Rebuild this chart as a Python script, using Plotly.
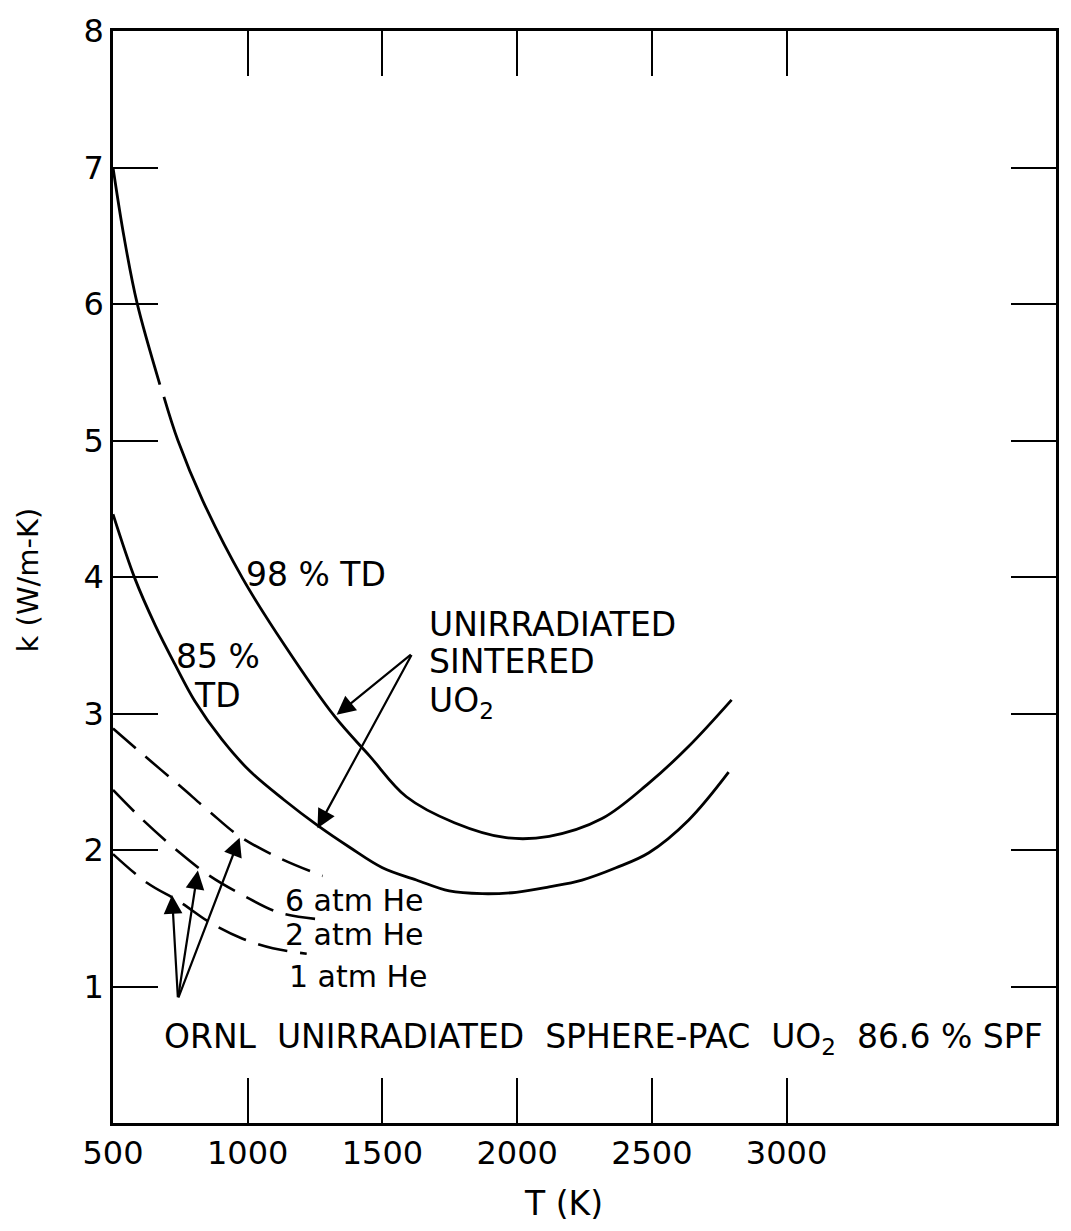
import plotly.graph_objects as go

# ---- data ----
t_98 = [500, 541, 589, 674, None, 689, 741, 833, 981, 1137, 1322, 1452, 1589, 1767,
        1959, 2119, 2315, 2489, 2637, 2796]
k_98 = [7.00, 6.49, 6.01, 5.41, None, 5.32, 5.00, 4.56, 3.99, 3.50, 2.98, 2.69, 2.39, 2.20,
        2.09, 2.10, 2.23, 2.49, 2.76, 3.10]

t_85 = [500, 581, 656, 730, 804, 904, 1007, 1133, 1259, 1378, 1500, 1626, 1748, 1870,
        1996, 2119, 2241, 2367, 2489, 2637, 2785]
k_85 = [4.46, 3.99, 3.65, 3.36, 3.09, 2.81, 2.58, 2.37, 2.18, 2.02, 1.87, 1.78, 1.70, 1.68,
        1.69, 1.73, 1.78, 1.87, 1.98, 2.22, 2.57]

t_6atm = [500, 611, 748, 859, 970, 1119, 1278]
k_6atm = [2.89, 2.70, 2.47, 2.28, 2.10, 1.94, 1.81]

t_2atm = [500, 611, 748, 859, 981, 1119, 1278]
k_2atm = [2.44, 2.22, 1.98, 1.81, 1.67, 1.54, 1.49]

t_1atm = [500, 626, 748, 859, 981, 1093, 1219]
k_1atm = [1.97, 1.76, 1.62, 1.47, 1.35, 1.28, 1.24]

x_ticks = [500, 1000, 1500, 2000, 2500, 3000]
y_ticks = [1, 2, 3, 4, 5, 6, 7, 8]

FONT = "DejaVu Sans"
fig = go.Figure()

solid = dict(color="black", width=2.8, shape="spline", smoothing=1.0)
dashed = dict(color="black", width=2.6, shape="spline", smoothing=1.0, dash="30px,13px")

fig.add_trace(go.Scatter(x=t_98, y=k_98, mode="lines", line=solid, connectgaps=False, showlegend=False))
fig.add_trace(go.Scatter(x=t_85, y=k_85, mode="lines", line=solid, showlegend=False))
fig.add_trace(go.Scatter(x=t_6atm, y=k_6atm, mode="lines", line=dashed, showlegend=False))
fig.add_trace(go.Scatter(x=t_2atm, y=k_2atm, mode="lines", line=dashed, showlegend=False))
fig.add_trace(go.Scatter(x=t_1atm, y=k_1atm, mode="lines", line=dashed, showlegend=False))

tf = dict(family=FONT, size=32, color="black")
ann = []
def txt(x, y, s, xa="left", size=33):
    ann.append(dict(x=x, y=y, xref="x", yref="y", text=s, showarrow=False,
                    xanchor=xa, yanchor="middle", font=dict(family=FONT, size=size, color="black")))

txt(985, 4.02, "98 % TD")
txt(889, 3.42, "85 %", xa="center")
txt(889, 3.13, "TD", xa="center")
txt(1665, 3.65, "UNIRRADIATED")
txt(1665, 3.38, "SINTERED")
txt(1665, 3.08, "UO<sub>2</sub>")
txt(1130, 1.63, "6 atm He", size=30)
txt(1130, 1.38, "2 atm He", size=30)
txt(1145, 1.07, "1 atm He", size=30)
txt(680, 0.62, "ORNL  UNIRRADIATED  SPHERE-PAC  UO<sub>2</sub>  86.6 % SPF", size=33)

def arrow(tx, ty, axx, ayy):
    ann.append(dict(x=tx, y=ty, ax=axx, ay=ayy, xref="x", yref="y", axref="x", ayref="y",
                    showarrow=True, arrowhead=2, arrowsize=1.7, arrowwidth=2.2, arrowcolor="black", text=""))

arrow(1330, 2.99, 1611, 3.44)
arrow(1259, 2.16, 1611, 3.44)
arrow(719, 1.67, 741, 0.91)
arrow(815, 1.85, 741, 0.91)
arrow(970, 2.09, 741, 0.91)

ann.append(dict(x=0.478, y=-0.074, xref="paper", yref="paper", text="T (K)", showarrow=False,
                xanchor="center", yanchor="middle", font=dict(family=FONT, size=33, color="black")))
ann.append(dict(x=-0.09, y=0.497, xref="paper", yref="paper", text="k (W/m-K)", showarrow=False,
                textangle=-90, xanchor="center", yanchor="middle", font=dict(family=FONT, size=29, color="black")))

fig.update_layout(
    width=1071, height=1231,
    margin=dict(l=113, r=13, t=20, b=108),
    paper_bgcolor="white", plot_bgcolor="white",
    annotations=ann,
    showlegend=False,
)
fig.update_xaxes(range=[500, 4000], tickvals=x_ticks, ticktext=[str(v) for v in x_ticks],
                 ticks="inside", ticklen=45, tickwidth=2, tickcolor="black",
                 showline=True, linecolor="black", linewidth=2.5, mirror="ticks",
                 showgrid=False, zeroline=False, tickfont=tf)
fig.update_yaxes(range=[0, 8], tickvals=y_ticks, ticktext=[str(v) for v in y_ticks],
                 ticks="inside", ticklen=45, tickwidth=2, tickcolor="black",
                 showline=True, linecolor="black", linewidth=2.5, mirror="ticks",
                 showgrid=False, zeroline=False, tickfont=tf)

fig.write_html("out.html")
